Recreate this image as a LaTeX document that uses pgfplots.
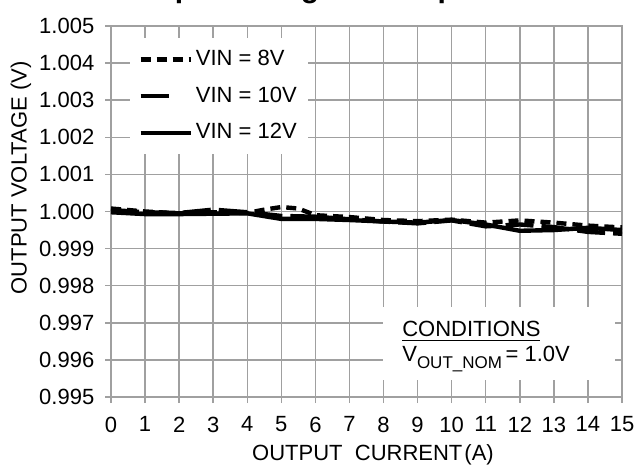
\documentclass[border=0pt]{standalone}
\usepackage{pgfplots}
\pgfplotsset{compat=1.18}
\usepackage{fontspec}
\setmainfont{Liberation Sans}
\definecolor{gridgray}{RGB}{160,160,160}
\begin{document}
\fontsize{11}{13}\selectfont
\begin{tikzpicture}
\begin{axis}[
  at={(55.5pt,34.5pt)}, anchor=south west,
  width=255.5pt, height=185.5pt, scale only axis,
  xmin=0, xmax=15, ymin=0.995, ymax=1.005,
  xtick={0,1,...,15},
  ytick={0.995,0.996,0.997,0.998,0.999,1.000,1.001,1.002,1.003,1.004,1.005},
  scaled y ticks=false,
  y tick label style={/pgf/number format/fixed, /pgf/number format/fixed zerofill, /pgf/number format/precision=3},
  /pgf/number format/assume math mode=true,
  tick label style={font=\fontsize{11}{13}\selectfont, text=black},
  grid=major,
  major grid style={gridgray, line width=0.75pt},
  axis line style={gridgray, line width=0.75pt},
  tick style={gridgray, line width=0.75pt},
  tick align=outside, major tick length=3pt,
  tick pos=left,
  xticklabel style={yshift=-3pt},
  yticklabel style={xshift=-1.5pt},
  clip=false,
  legend style={at={(axis cs:0.56,1.00468)}, anchor=north west, fill=white, draw=none,
    font=\fontsize{11}{13}\selectfont, row sep=5pt, inner xsep=4pt, inner ysep=4pt,
    nodes={inner xsep=1.5pt},
    legend cell align=left},
  legend image code/.code={\draw[#1] (0pt,0pt) -- (25pt,0pt);},
]
\fill[white] (axis cs:7.98,0.99743) rectangle (axis cs:14.79,0.99546);
\node[anchor=base west, inner sep=0pt] at (axis cs:8.54,0.99662) {\underline{CONDITIONS}};
\node[anchor=base west, inner sep=0pt] at (axis cs:8.54,0.99595) {V\raisebox{-0.3em}{\fontsize{8.5}{9}\selectfont OUT\_NOM}\,= 1.0V};
\addplot[black, line width=2.2pt, dash pattern=on 5pt off 3pt] coordinates {
(0,1.00008)(1,1.00000)(2,0.99995)(3,0.99998)(4,0.99996)(4.5,1.00005)(5,1.00012)(5.5,1.00008)(6,0.99990)(7,0.99985)(8,0.99977)(9,0.99974)(10,0.99978)(11,0.99970)(12,0.99976)(13,0.99970)(14,0.99962)(15,0.99957)};
\addlegendentry{VIN = 8V}
\addplot[black, line width=2.2pt, dash pattern=on 14pt off 4pt,
  legend image code/.code={\draw[black, line width=2.2pt] (0pt,0pt) -- (16pt,0pt);}] coordinates {
(0,1.00004)(1,0.99998)(2,0.99996)(3,1.00005)(4,0.99998)(5,0.99988)(6,0.99986)(7,0.99979)(8,0.99973)(9,0.99968)(10,0.99976)(11,0.99960)(12,0.99965)(13,0.99958)(14,0.99945)(15,0.99940)};
\addlegendentry{VIN = 10V}
\addplot[black, line width=2.2pt] coordinates {
(0,0.99998)(1,0.99993)(2,0.99993)(3,0.99994)(4,0.99995)(5,0.99980)(6,0.99980)(7,0.99977)(8,0.99973)(9,0.99970)(10,0.99977)(11,0.99965)(12,0.99948)(13,0.99950)(14,0.99956)(15,0.99950)};
\addlegendentry{VIN = 12V}
\end{axis}
\node[rotate=90, anchor=center] at (10.5pt,144pt) {OUTPUT VOLTAGE (V)};
\node[anchor=center] at (186.5pt,5.5pt) {OUTPUT~~CURRENT\hspace{1pt}(A)};
\node[anchor=base, font=\bfseries\fontsize{15}{17}\selectfont] at (181pt,234pt) {Output Voltage vs Output Current};
\pgfresetboundingbox
\path[use as bounding box] (0,0) rectangle (318pt,233pt);
\end{tikzpicture}
\end{document}
